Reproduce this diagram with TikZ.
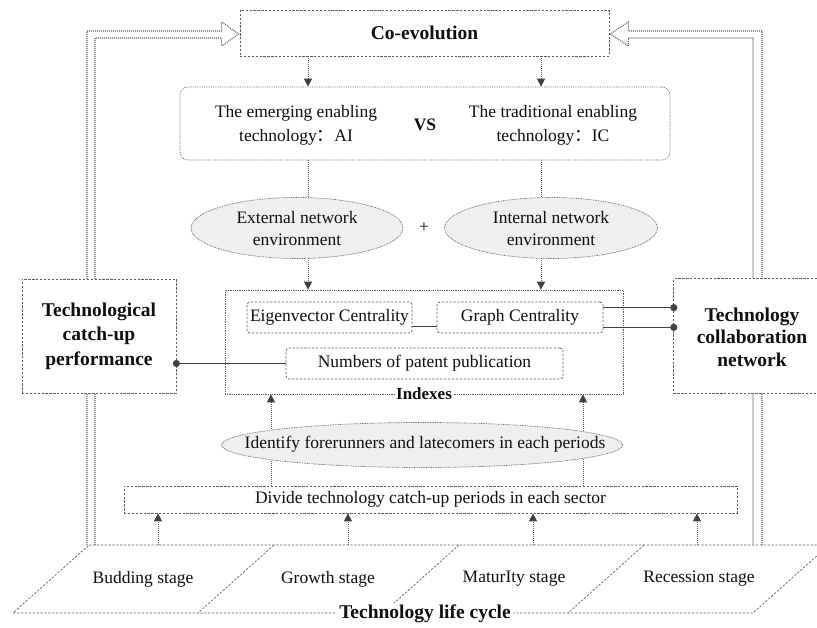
\documentclass[tikz,border=0pt]{standalone}
\usepackage{fontspec}
\setmainfont{Liberation Serif}
\newfontfamily\cjk{Noto Sans CJK SC}
\usetikzlibrary{shapes.geometric,arrows.meta,calc,backgrounds}
\definecolor{ln}{RGB}{95,95,95}
\definecolor{dk}{RGB}{64,64,64}
\definecolor{ef}{RGB}{239,239,239}
\definecolor{tx}{RGB}{15,15,15}
\begin{document}
\begin{tikzpicture}[x=1pt,y=-1pt,
  every node/.style={text=tx},
  dotln/.style={draw=ln, line width=0.9pt, dash pattern=on 1pt off 1pt},
  arr/.style={dotln, -{Triangle[length=8pt,width=8pt,color=dk]}},
  boxdash/.style={draw=ln, line width=0.7pt, dash pattern=on 2.3pt off 1.6pt},
  dbox/.style={boxdash, fill=white, rectangle, inner sep=0pt, align=center},
  rbox/.style={dbox, rounded corners=3pt},
  dotbox/.style={draw=ln, line width=0.7pt, dash pattern=on 0.8pt off 1pt, fill=white, rectangle, inner sep=0pt},
  ell/.style={ellipse, draw=ln, line width=0.7pt, dash pattern=on 0.8pt off 0.9pt, fill=ef, inner sep=0pt},
  body/.style={font=\fontsize{17.5}{24}\selectfont, align=center},
  title/.style={font=\bfseries\fontsize{19.5}{24}\selectfont, align=center},
  conn/.style={draw=dk, line width=0.8pt},
  dotc/.style={fill=dk}
]
\useasboundingbox (0,0) rectangle (817,628);

% ---------- nodes ----------
\node[dbox, minimum width=369pt, minimum height=46pt, title] (coev) at (424.5,33) {Co-evolution};

\node[dotbox, rounded corners=8pt, minimum width=490pt, minimum height=73pt] (mid) at (425,123.5) {};
\node[body] (aitext) at (296,125) {The emerging enabling\\technology{\cjk ：}AI};
\node[font=\bfseries\fontsize{17.5}{17.5}\selectfont] (vs) at (425,125) {VS};
\node[body] (ictext) at (553,125) {The traditional enabling\\technology{\cjk ：}IC};

\node[ell, minimum width=212pt, minimum height=61pt] (ext) at (297,228) {};
\node[body, font=\fontsize{17.5}{22}\selectfont] (exttext) at (297,229) {External network\\environment};
\node[ell, minimum width=213pt, minimum height=61pt] (int) at (551,228) {};
\node[body, font=\fontsize{17.5}{22}\selectfont] (inttext) at (551,229) {Internal network\\environment};
\node[font=\fontsize{17.5}{17.5}\selectfont] (plus) at (424,228) {+};

\node[dotbox, minimum width=398pt, minimum height=104pt] (idx) at (424,342) {};
\node[rbox, minimum width=165pt, minimum height=31pt, body] (eig) at (329.5,317.5) {Eigenvector Centrality};
\node[rbox, minimum width=166pt, minimum height=31pt, body] (gra) at (520,317.5) {Graph Centrality};
\node[rbox, minimum width=277pt, minimum height=31pt, body] (num) at (424.5,363.5) {Numbers of patent publication};
\node[fill=white, inner sep=1pt, font=\bfseries\fontsize{17}{17}\selectfont] (idxlab) at (424,394) {Indexes};

\node[dbox, minimum width=154pt, minimum height=114pt, title, font=\bfseries\fontsize{19.5}{24.5}\selectfont] (catch) at (99,336) {Technological\\catch-up\\performance};

\node[fill=white, inner sep=0pt, minimum width=143pt, minimum height=114pt] (collab) at (745.5,336) {};
\draw[boxdash] (collab.north east) -- (collab.north west) -- (collab.south west) -- (collab.south east);
\node[title, font=\bfseries\fontsize{19.5}{22.5}\selectfont] (collabtext) at (752,337) {Technology\\collaboration\\network};

\node[ell, minimum width=401pt, minimum height=45pt] (ident) at (422,445) {};
\node[body] (identtext) at (425,444) {Identify forerunners and latecomers in each periods};

\node[dbox, minimum width=613pt, minimum height=27pt, body] (divide) at (430.5,499.5) {Divide technology catch-up periods in each sector};

% ---------- life cycle parallelogram ----------
\begin{scope}
\clip (0,0) rectangle (817,628);
\draw[boxdash] (89,545) -- (829,545) -- (753,613) -- (13,613) -- cycle;
\draw[boxdash] (274,545) -- (198,613);
\draw[boxdash] (459,545) -- (383,613);
\draw[boxdash] (644,545) -- (568,613);
\end{scope}
\node[body] (st1) at (143,579) {Budding stage};
\node[body] (st2) at (328,579) {Growth stage};
\node[body] (st3) at (514,579) {MaturIty stage};
\node[body] (st4) at (699,579) {Recession stage};
\node[fill=white, inner sep=2pt, title] (tlc) at (425,614) {Technology life cycle};

% ---------- coordinates ----------
\coordinate (c1) at (308,0);
\coordinate (c2) at (541,0);
\coordinate (c3) at (271,0);
\coordinate (c4) at (583,0);
\coordinate (s1) at (158,545);
\coordinate (s2) at (348,545);
\coordinate (s3) at (533,545);
\coordinate (s4) at (697,545);
\coordinate (lb) at (87,545);
\coordinate (rb) at (762,545);

% ---------- connectors ----------
\draw[arr] (coev.south -| c1) -- (mid.north -| c1);
\draw[arr] (coev.south -| c2) -- (mid.north -| c2);

\begin{pgfonlayer}{background}
\draw[dotln] (mid.south -| c1) -- (ext.center -| c1);
\draw[dotln] (mid.south -| c2) -- (int.center -| c2);
\draw[arr] (ext.center -| c1) -- (idx.north -| c1);
\draw[arr] (int.center -| c2) -- (idx.north -| c2);
\draw[arr] (ident.center -| c3) -- (idx.south -| c3);
\draw[arr] (ident.center -| c4) -- (idx.south -| c4);
\draw[dotln] (divide.north -| c3) -- (ident.center -| c3);
\draw[dotln] (divide.north -| c4) -- (ident.center -| c4);
% feedback double arrows
\draw[dotln, line width=1.1pt] (lb) -- ++(0,-514) -- ($(coev.west)+(-18,-2)$) -- ($(coev.west)+(-18,-11)$) -- ($(coev.west)+(-1,1)$)
   -- ($(coev.west)+(-18,13)$) -- ($(coev.west)+(-18,5)$) -- ($(lb)+(8,-507)$) -- ($(lb)+(8,0)$);
\draw[dotln, line width=1.1pt] (rb) -- ++(0,-514) -- ($(coev.east)+(19,-2)$) -- ($(coev.east)+(19,-11)$) -- ($(coev.east)+(1,1)$)
   -- ($(coev.east)+(19,13)$) -- ($(coev.east)+(19,5)$) -- ($(rb)+(-9,-507)$) -- ($(rb)+(-9,0)$);
\end{pgfonlayer}

\draw[arr] (s1) -- (s1 |- divide.south);
\draw[arr] (s2) -- (s2 |- divide.south);
\draw[arr] (s3) -- (s3 |- divide.south);
\draw[arr] (s4) -- (s4 |- divide.south);

\draw[conn] ($(eig.south east)+(0,-7)$) -- ($(gra.south west)+(0,-7)$);
\draw[conn] ($(gra.north east)+(0,6)$) -- (collab.west |- {$(gra.north east)+(0,6)$});
\draw[conn] ($(gra.south east)+(0,-6)$) -- (collab.west |- {$(gra.south east)+(0,-6)$});
\fill[dotc] (collab.west |- {$(gra.north east)+(0,6)$}) circle[radius=3.6pt];
\fill[dotc] (collab.west |- {$(gra.south east)+(0,-6)$}) circle[radius=3.6pt];
\draw[conn] (num.west) -- (catch.east |- num.west);
\fill[dotc] (catch.east |- num.west) circle[radius=3.6pt];
\end{tikzpicture}
\end{document}
